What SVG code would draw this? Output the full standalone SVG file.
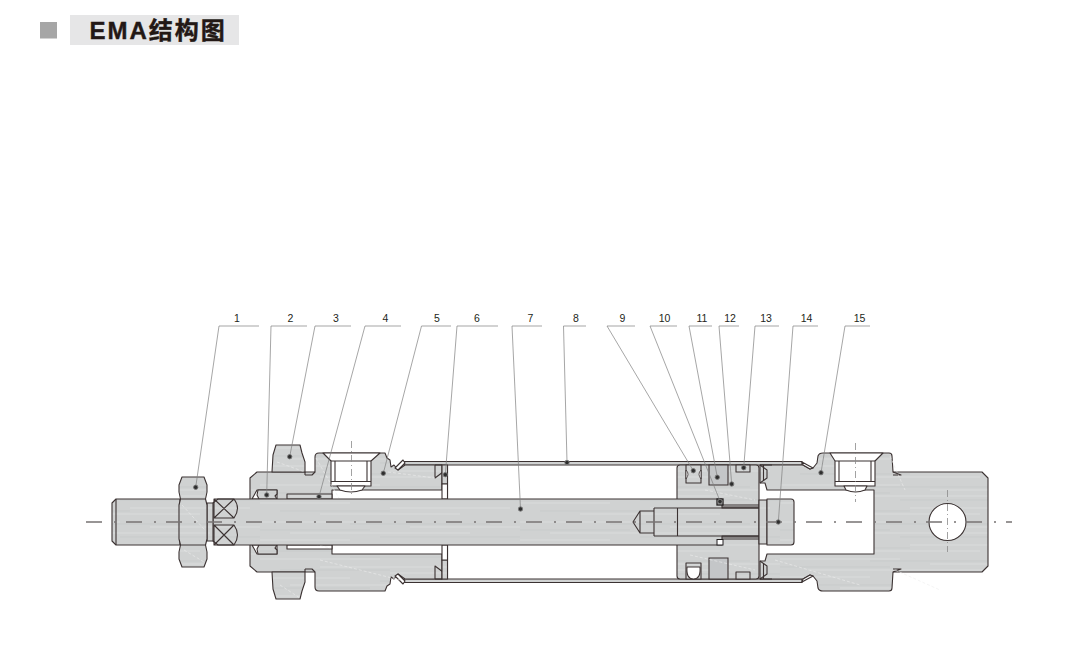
<svg xmlns="http://www.w3.org/2000/svg" width="1089" height="646" viewBox="0 0 1089 646">
<style>
.m{fill:url(#steel);stroke:#3b3232;stroke-width:1.100;stroke-linejoin:round}
.d{fill:#c4c6c8;stroke:#3b3232;stroke-width:1.100}
.w{fill:#fff;stroke:#3b3232;stroke-width:1.100;stroke-linejoin:round}
.l{fill:none;stroke:#3b3232;stroke-width:1.100;stroke-linejoin:round}
.c{fill:none;stroke:#8a8a8a;stroke-width:.8;stroke-dasharray:7 3 1 3}
.a{fill:none;stroke:#777373;stroke-width:1.500;stroke-dasharray:16 12 2 10}
.ld{fill:none;stroke:#7f7f7f;stroke-width:.7}
.dot{fill:#2e2e2e;stroke:#7a7a7a;stroke-width:.9}
.n{font-family:"Liberation Sans",Arial,sans-serif;font-size:10.500px;fill:#231f20;text-anchor:middle}
.s{fill:none;stroke:#ecedec;stroke-width:.6;stroke-dasharray:3 2}
</style>
<defs>
<pattern id="steel" width="260" height="37" patternUnits="userSpaceOnUse">
<rect width="260" height="37" fill="#d0d2d2"/>
<path d="M0 4H120M150 9H260M30 15H210M0 22H90M130 27H250M60 33H200" stroke="#dcdede" stroke-width=".8"/>
<path d="M90 6H230M0 12H110M120 19H260M20 30H130" stroke="#c5c7c7" stroke-width=".7"/>
</pattern>
<g id="front-half">
<path class="m" d="M250 522V478L257 472H315V457Q315 453 319 453H385L387 458L390 460L391 467L394 465L398 470L405 465H442V490H332V522Z"/>
<path class="w" d="M395 468L403 460L405 463L398 470Z"/>
<path class="l" d="M305 475H312L315 472M305 472V475"/>
<path class="m" d="M272 472L273 455L276 445H300L302 453L305 462V472Z"/>
<path class="w" d="M252 499L257 490H277V499Z"/>
<path class="m" d="M258 490H277V494L275 496L277 499H259L257 495Z"/>
<path class="l" d="M435 465V478L443 472M435 465H442"/>
<path class="m" d="M442 465H447.500V484H442Z"/>
<path class="w" d="M442 484H447.500V499H442Z"/>
</g>
<g id="rear-half">
<path class="l" d="M760 465L767 470V478L760 483"/>
<path class="l" d="M763.500 465V481M760 465H772"/>
<path class="w" d="M802 462L813 468L810 469L803 465Z"/>
</g>
</defs>
<g id="title">
<rect x="40" y="22" width="17" height="16.500" fill="#a6a6a6"/>
<rect x="70" y="15" width="169" height="30" fill="#e6e6e7"/>
<text x="89.500" y="38.500" font-family="'Liberation Sans','Noto Sans CJK SC',sans-serif" font-size="24" font-weight="700" letter-spacing="2" fill="#231815" stroke="#231815" stroke-width=".4">EMA结构图</text>
</g>
<g id="cylinder">
<g id="tube">
<rect class="m" x="404" y="461.500" width="398" height="3.500"/>
<rect class="m" x="404" y="579" width="398" height="3.500"/>
<path class="l" d="M447.500 465V499M447.500 545V579"/>
</g>
<g id="front-cover">
<use href="#front-half"/>
<use href="#front-half" transform="translate(0 1044) scale(1 -1)"/>
<path class="m" d="M287 499V494H332V499Z"/>
<path class="w" d="M287 545V549H332V545Z"/>
<path class="w" d="M331 461L323 453H380L371 461V486H331Z"/>
<path class="l" d="M331 461H371M331 481.500H371M335 461V481.500M367 461V481.500"/>
<path class="w" d="M337 486H365L362 490Q351 494 340 490Z"/>
<path class="c" d="M351.500 441V497"/>
<path class="s" d="M277 462L305 472M316 458L340 500M388 472L435 478M262 530L330 548M320 560L400 580M280 585L300 598"/>
</g>
<g id="rear-cover">
<path class="m" d="M760 465H803L810 469L813 468L817 463L818 456Q819 453 823 453H889Q892 453 892 456L893 472H982L988 478V566L982 572H893L892 588Q892 591 889 591H823Q819 591 818 588L817 581L813 576L810 575L803 579H760V561H765L767 554H874V490H767L765 483H760Z"/>
<use href="#rear-half"/>
<use href="#rear-half" transform="translate(0 1044) scale(1 -1)"/>
<path class="l" d="M893 472L901 475H893M893 572L901 569H893"/>
<path class="w" d="M835 461L830 453H883L875 461V486H835Z"/>
<path class="l" d="M835 461H875M835 481.500H875M839 461V481.500M871 461V481.500"/>
<path class="w" d="M844 486H867L865 490Q855.500 494 846 490Z"/>
<path class="c" d="M855.500 443V502"/>
<circle class="w" cx="947.500" cy="522" r="18.500"/>
<path class="c" d="M947.500 490V552"/>
<path class="s" d="M890 456L905 490M775 560L860 585M895 570L940 590"/>
</g>
<g id="piston">
<rect class="m" x="677" y="465" width="82" height="114" rx="3"/>
<path class="m" d="M686 465H701V483H686Z"/>
<path d="M686 470Q690 474 686 479ZM701 470Q697 474 701 479Z" fill="#fff" stroke="#3b3232" stroke-width=".8"/>
<path class="m" d="M686 563H701V579H686Z"/>
<path class="w" d="M687 567H700Q701 579 693.500 579Q686 579 687 567Z"/>
<path class="d" d="M709 465H728V485H709Z"/>
<path class="m" d="M736 465H750V472H736Z"/>
<path class="d" d="M709 558H728V579H709Z"/>
<path class="m" d="M736 572H750V579H736Z"/>
<path class="s" d="M705 490L755 500M690 555L755 570"/>
</g>
<g id="rod">
<path class="m" d="M213 503L218 499H722V508H759V536H722V545H218L213 541Z"/>
<path class="l" d="M722 505H759M722 539H759M722 507H759M722 537H759"/>
<path class="l" d="M654 508H759M654 536H759M654 508V536M677.500 508V536M654 511H640L633 522L640 533H654M640 511V533"/>
<rect x="717" y="499" width="6" height="6" fill="#b9bbbb" stroke="#231f20" stroke-width="1.300"/>
<rect x="717" y="539.500" width="6" height="5.500" fill="#fff" stroke="#231f20" stroke-width="1"/>
<path class="m" d="M759 500H767V544H759Z"/>
<path class="m" d="M767 499H791Q794 499 794 502V542Q794 545 791 545H767Z"/>
<path class="l" d="M214 499H234Q241 508 234 518H214ZM214 499L234 518M234 499L214 518M214 525H234Q241 535 234 545H214ZM214 525L234 545M234 525L214 545"/>
<path class="m" d="M116 499H180V545H116L112 541V503Z"/>
<path class="l" d="M116 499V545"/>
<rect class="m" x="207" y="503" width="6" height="38"/>
<path class="m" d="M182 477H204L207 485V492L205.500 499L207 505V539L205.500 545L207 552V559L204 567H182L179 559V552L180.500 545L179 539V505L180.500 499L179 492V485Z"/>
<path class="l" d="M180.500 499H205.500M180.500 545H205.500"/>
<path class="s" d="M182 505L205 530M184 550L204 562"/>
</g>
<path id="axis" class="a" d="M86 522H1012"/>
</g>
<g id="connectors">
<path class="ld" d="M259 326H219L195.700 487.300"/>
<path class="ld" d="M307 326H271L266.700 495"/>
<path class="ld" d="M351 326H315L289.700 456.700"/>
<path class="ld" d="M401 326H365L319 496.700"/>
<path class="ld" d="M451 326H421.500L383.300 473.300"/>
<path class="ld" d="M498 326H457L445.300 474.700"/>
<path class="ld" d="M542 326H512L520.500 509"/>
<path class="ld" d="M586 326H563.500L567 462"/>
<path class="ld" d="M635 326H607L693.300 470.700"/>
<path class="ld" d="M677 326H650L720 501"/>
<path class="ld" d="M712 326H689L717.300 477.300"/>
<path class="ld" d="M739 326H719L731.700 484"/>
<path class="ld" d="M779 326H755L743.700 467.700"/>
<path class="ld" d="M818 326H793L778.300 522"/>
<path class="ld" d="M870 326H845L821 472.700"/>
</g>
<g id="callouts">
<g id="n1"><text class="n" x="237" y="321.500">1</text><circle class="dot" cx="195.700" cy="487.300" r="2.200"/></g>
<g id="n2"><text class="n" x="290.500" y="321.500">2</text><circle class="dot" cx="266.700" cy="495" r="2.200"/></g>
<g id="n3"><text class="n" x="336" y="321.500">3</text><circle class="dot" cx="289.700" cy="456.700" r="2.200"/></g>
<g id="n4"><text class="n" x="385.500" y="321.500">4</text><circle class="dot" cx="319" cy="496.700" r="2.200"/></g>
<g id="n5"><text class="n" x="437" y="321.500">5</text><circle class="dot" cx="383.300" cy="473.300" r="2.200"/></g>
<g id="n6"><text class="n" x="477" y="321.500">6</text><circle class="dot" cx="445.300" cy="474.700" r="2.200"/></g>
<g id="n7"><text class="n" x="530.500" y="321.500">7</text><circle class="dot" cx="520.500" cy="509" r="2.200"/></g>
<g id="n8"><text class="n" x="576" y="321.500">8</text><circle class="dot" cx="567" cy="462.500" r="2.200"/></g>
<g id="n9"><text class="n" x="622.500" y="321.500">9</text><circle class="dot" cx="693.300" cy="470.700" r="2.200"/></g>
<g id="n10"><text class="n" x="664.500" y="321.500">10</text><circle class="dot" cx="720" cy="501.500" r="2.200"/></g>
<g id="n11"><text class="n" x="702" y="321.500">11</text><circle class="dot" cx="717.300" cy="477.300" r="2.200"/></g>
<g id="n12"><text class="n" x="730" y="321.500">12</text><circle class="dot" cx="731.700" cy="484" r="2.200"/></g>
<g id="n13"><text class="n" x="766" y="321.500">13</text><circle class="dot" cx="743.700" cy="467.700" r="2.200"/></g>
<g id="n14"><text class="n" x="806.500" y="321.500">14</text><circle class="dot" cx="778.300" cy="522" r="2.200"/></g>
<g id="n15"><text class="n" x="859.500" y="321.500">15</text><circle class="dot" cx="821" cy="472.700" r="2.200"/></g>
</g>
</svg>
